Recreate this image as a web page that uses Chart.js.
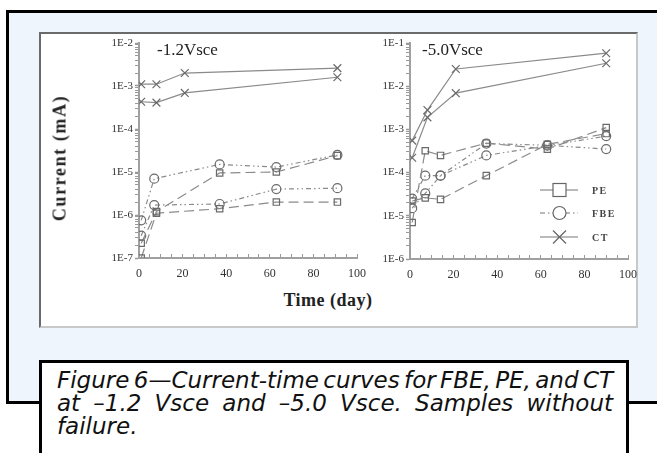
<!DOCTYPE html>
<html><head><meta charset="utf-8">
<script src="https://cdn.jsdelivr.net/npm/chart.js@4/dist/chart.umd.min.js"></script>
<style>
html,body{margin:0;padding:0;background:#fff;width:657px;height:453px;overflow:hidden;position:relative;}
#frame{position:absolute;left:6px;top:10px;width:660px;height:388px;background:#eef5fc;border-left:3px solid #000;border-top:3px solid #000;border-bottom:3px solid #000;}
#panel{position:absolute;left:39px;top:32px;width:599px;height:296px;box-sizing:border-box;background:#fff;border:2px solid;border-color:#6a6a6a #c8c8c8 #c8c8c8 #6a6a6a;}
.cw{position:absolute;}
.lbl{position:absolute;font-family:"Liberation Serif",serif;color:#222;white-space:nowrap;}
#caption{position:absolute;left:39px;top:360px;width:590px;height:120px;box-sizing:border-box;background:#fff;border:3px solid #000;padding:6px 13px 0 15px;font-family:"DejaVu Sans",sans-serif;font-style:italic;font-size:23px;line-height:23px;color:#111;word-spacing:-4px;}
#caption div{white-space:nowrap;}
#caption .j{text-align:justify;text-align-last:justify;}
.leg{position:absolute;left:540px;height:20px;display:flex;align-items:center;}
.leg span{font-family:"Liberation Serif",serif;font-weight:bold;font-size:10px;color:#444;letter-spacing:1.5px;margin-left:14px;}
</style></head>
<body>
<div id="frame"></div>
<div id="panel"></div>
<div class="cw" style="left:42px;top:30px;width:337px;height:258px;"><canvas id="c1"></canvas></div>
<div class="cw" style="left:370px;top:30px;width:280px;height:259px;"><canvas id="c2"></canvas></div>
<div class="lbl" style="left:157px;top:40px;font-size:17px;">-1.2Vsce</div>
<div class="lbl" style="left:422px;top:40px;font-size:17px;">-5.0Vsce</div>
<div class="lbl" style="left:60px;top:158px;font-size:18px;font-weight:bold;letter-spacing:1.6px;transform:translate(-50%,-50%) rotate(-90deg);">Current (mA)</div>
<div class="lbl" style="left:328px;top:300px;font-size:18px;font-weight:bold;letter-spacing:0.5px;transform:translate(-50%,-50%);">Time (day)</div>
<div class="leg" style="top:180px;"><svg width="38" height="20"><line x1="0" y1="10" x2="38" y2="10" stroke="#777" stroke-width="1.2"/><rect x="13" y="3.5" width="13" height="13" fill="#fff" stroke="#666" stroke-width="1.2"/></svg><span>PE</span></div>
<div class="leg" style="top:203px;"><svg width="38" height="20"><line x1="0" y1="10" x2="38" y2="10" stroke="#777" stroke-width="1.2" stroke-dasharray="5,3,1.5,3"/><circle cx="19.5" cy="10" r="6.5" fill="#fff" stroke="#666" stroke-width="1.2"/></svg><span>FBE</span></div>
<div class="leg" style="top:227px;"><svg width="38" height="20"><line x1="0" y1="10" x2="38" y2="10" stroke="#777" stroke-width="1.2"/><line x1="13" y1="3.5" x2="26" y2="16.5" stroke="#666" stroke-width="1.2"/><line x1="13" y1="16.5" x2="26" y2="3.5" stroke="#666" stroke-width="1.2"/></svg><span>CT</span></div>
<div id="caption">
<div class="j">Figure 6—Current-time curves for FBE, PE, and CT</div>
<div class="j">at –1.2 Vsce and –5.0 Vsce. Samples without</div>
<div>failure.</div>
</div>
<script>
// ---- tick settings ----
const xTickLabels = [0, 20, 40, 60, 80, 100];
const leftDecades = [-7, -2];
const rightDecades = [-6, -1];

// ---- -1.2 Vsce panel ----
const L_PE1_days = [1, 8, 37, 63, 91];
const L_PE1_vals = [2.2e-7, 1.2e-6, 9.5e-6, 1.0e-5, 2.4e-5];
const L_PE2_days = [1, 8, 37, 63, 91];
const L_PE2_vals = [1.0e-7, 1.1e-6, 1.4e-6, 2.0e-6, 2.0e-6];
const L_FBE1_days = [1, 7, 37, 63, 91];
const L_FBE1_vals = [7.5e-7, 7.0e-6, 1.5e-5, 1.3e-5, 2.5e-5];
const L_FBE2_days = [1, 7, 37, 63, 91];
const L_FBE2_vals = [3.3e-7, 1.7e-6, 1.8e-6, 4.0e-6, 4.2e-6];
const L_CT1_days = [1, 8, 21, 91];
const L_CT1_vals = [1.1e-3, 1.1e-3, 2.0e-3, 2.6e-3];
const L_CT2_days = [1, 8, 21, 91];
const L_CT2_vals = [4.3e-4, 4.1e-4, 6.9e-4, 1.6e-3];

// ---- -5.0 Vsce panel ----
const R_PE1_days = [1, 7, 14, 35, 63, 90];
const R_PE1_vals = [7e-6, 3.2e-4, 2.5e-4, 4.8e-4, 3.5e-4, 1.1e-3];
const R_PE2_days = [1, 7, 14, 35, 63, 90];
const R_PE2_vals = [2.2e-5, 2.6e-5, 2.4e-5, 8.5e-5, 4.5e-4, 8e-4];
const R_FBE1_days = [1, 7, 14, 35, 63, 90];
const R_FBE1_vals = [2.5e-5, 8.5e-5, 8.5e-5, 4.7e-4, 4.3e-4, 3.5e-4];
const R_FBE2_days = [1, 7, 14, 35, 63, 90];
const R_FBE2_vals = [1.5e-5, 3.3e-5, 8.5e-5, 2.5e-4, 4.2e-4, 7e-4];
const R_CT1_days = [1, 8, 21, 90];
const R_CT1_vals = [5.5e-4, 2.8e-3, 2.5e-2, 5.8e-2];
const R_CT2_days = [1, 8, 21, 90];
const R_CT2_vals = [2.2e-4, 1.9e-3, 6.9e-3, 3.4e-2];

const pts = (d, v) => d.map((x, i) => ({x, y: v[i]}));
const LINE = '#8a8a8a', MK = '#6a6a6a';
const styles = {
  PE: {pointStyle: 'rect', borderDash: [10, 5], pointRadius: 4.5},
  FBE: {pointStyle: 'circle', borderDash: [5, 3, 1.5, 3, 1.5, 3], pointRadius: 4.5},
  CT: {pointStyle: 'crossRot', borderDash: [], pointRadius: 5.5}
};
function ds(kind, d, v) {
  const s = styles[kind];
  return {label: kind, data: pts(d, v), borderColor: LINE, borderWidth: 1.2, borderDash: s.borderDash,
    pointStyle: s.pointStyle, pointRadius: s.pointRadius, pointBorderColor: MK, pointBorderWidth: 1.2,
    pointBackgroundColor: 'rgba(255,255,255,0)', tension: 0, fill: false};
}
const serif = '"Liberation Serif", "Times New Roman", serif';
function opts(dec, yWidth) {
  return {
    responsive: true, maintainAspectRatio: false, animation: false, devicePixelRatio: 1,
    layout: {padding: {top: 13, right: 0, left: 0, bottom: 0}},
    plugins: {legend: {display: false}, tooltip: {enabled: false}},
    scales: {
      x: {type: 'linear', min: 0, max: 100,
        afterFit: s => { s.height = 30; },
        afterBuildTicks: s => { const t = []; for (let v = 0; v <= 100; v += 5) t.push({value: v}); s.ticks = t; },
        ticks: {autoSkip: false, maxRotation: 0, padding: 13, color: '#333', font: {family: serif, size: 12},
          callback: v => xTickLabels.includes(v) ? String(v) : ''},
        grid: {drawOnChartArea: false, tickLength: -4, tickColor: '#999', tickWidth: 1},
        border: {color: '#a0a0a0', width: 2}
      },
      y: {type: 'logarithmic', min: Math.pow(10, dec[0]), max: Math.pow(10, dec[1]),
        afterFit: s => { s.width = yWidth; },
        afterBuildTicks: s => {
          const t = [];
          for (let e = dec[0]; e < dec[1]; e++) for (let m = 1; m < 10; m++) t.push({value: m * Math.pow(10, e)});
          t.push({value: Math.pow(10, dec[1])});
          s.ticks = t;
        },
        ticks: {autoSkip: false, padding: 2, color: '#333', font: {family: serif, size: 11},
          callback: v => { const l = Math.log10(v); return Math.abs(l - Math.round(l)) < 1e-6 ? '1E' + Math.round(l) : ''; }},
        grid: {drawOnChartArea: false, tickLength: 4, tickColor: '#999',
          tickWidth: c => { const l = Math.log10(c.tick.value); return Math.abs(l - Math.round(l)) < 1e-6 ? 1.5 : 1; }},
        border: {color: '#a0a0a0', width: 2}
      }
    }
  };
}
new Chart(document.getElementById('c1'), {type: 'line', data: {datasets: [
  ds('PE', L_PE1_days, L_PE1_vals), ds('PE', L_PE2_days, L_PE2_vals),
  ds('FBE', L_FBE1_days, L_FBE1_vals), ds('FBE', L_FBE2_days, L_FBE2_vals),
  ds('CT', L_CT1_days, L_CT1_vals), ds('CT', L_CT2_days, L_CT2_vals)
]}, options: opts(leftDecades, 97)});
new Chart(document.getElementById('c2'), {type: 'line', data: {datasets: [
  ds('PE', R_PE1_days, R_PE1_vals), ds('PE', R_PE2_days, R_PE2_vals),
  ds('FBE', R_FBE1_days, R_FBE1_vals), ds('FBE', R_FBE2_days, R_FBE2_vals),
  ds('CT', R_CT1_days, R_CT1_vals), ds('CT', R_CT2_days, R_CT2_vals)
]}, options: opts(rightDecades, 40)});
</script>
</body></html>
